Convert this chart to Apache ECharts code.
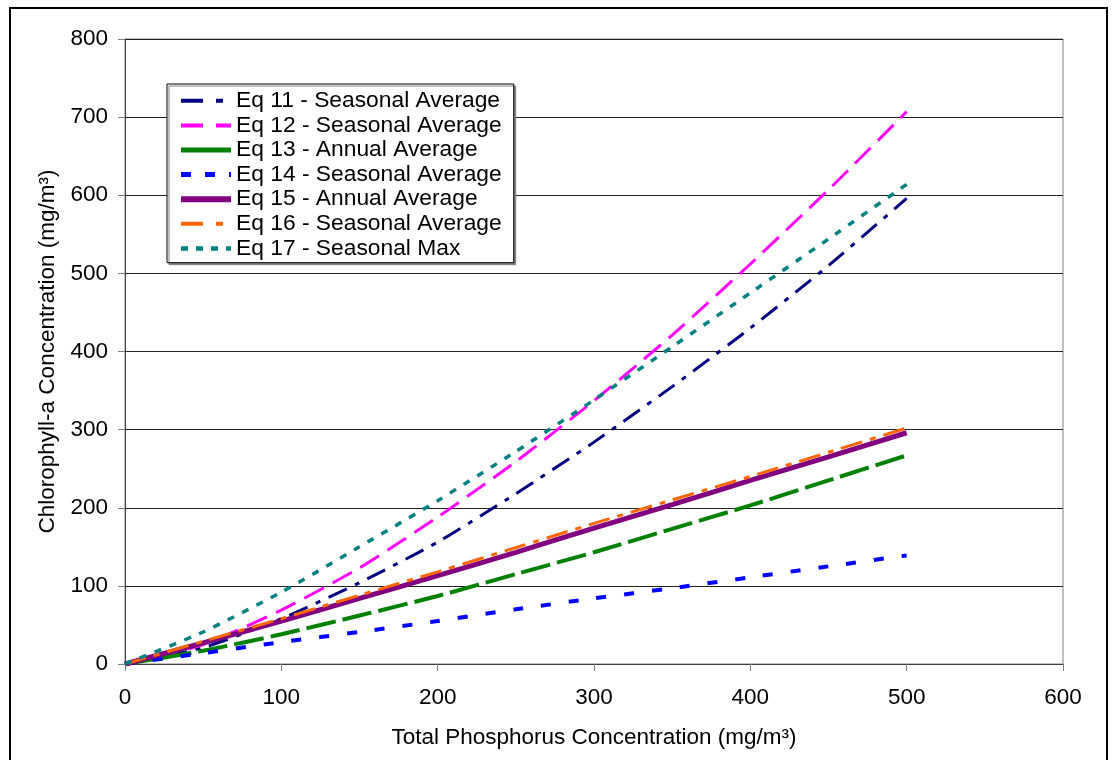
<!DOCTYPE html>
<html>
<head>
    <meta charset="UTF-8">
    <title>Chlorophyll-a vs Total Phosphorus</title>
<script src="https://cdn.jsdelivr.net/npm/echarts@6/dist/echarts.min.js"></script>
<style>
    html, body { margin: 0; padding: 0; background: #fff; }
</style>
</head>

<body>
    <div id="main" style="width: 1112px;height:760px;"></div>
    <script type="text/javascript">
        // total phosphorus (x) and chlorophyll-a (y)
        var tp   = [0, 50, 100, 150, 200, 250, 300, 350, 400, 450, 500];
        var eq11 = [0, 21, 58, 104, 156, 218, 284, 355, 430, 510, 596];
        var eq12 = [0, 25, 69, 123, 188, 259, 337, 421, 512, 607, 707];
        var eq13 = [0, 17, 38, 62, 87, 115, 143, 173, 203, 235, 267];
        var eq14 = [0, 14, 28, 41, 55, 70, 84, 97, 111, 125, 139];
        var eq15 = [0, 27, 55, 84, 113, 143, 174, 204, 235, 265, 296];
        var eq16 = [0, 29, 58, 88, 118, 149, 180, 210, 240, 271, 302];
        var eq17 = [0, 41, 92, 150, 209, 272, 338, 406, 475, 544, 614];

        var names = [
            'Eq 11 - Seasonal Average',
            'Eq 12 - Seasonal Average',
            'Eq 13 - Annual Average',
            'Eq 14 - Seasonal Average',
            'Eq 15 - Annual Average',
            'Eq 16 - Seasonal Average',
            'Eq 17 - Seasonal Max'
        ];
        var values = [eq11, eq12, eq13, eq14, eq15, eq16, eq17];
        var colors = ['#000080', '#ff00ff', '#008000', '#0000ff', '#800080', '#ff6600', '#008080'];
        var widths = [3, 3, 4, 4, 5, 3, 3.5];
        var dashes = [[20, 9, 5, 9], [22, 10], [30, 7], [10, 18], 'solid', [22, 8, 6, 8], [7, 9]];
        // dash patterns of the little legend swatches
        var legendDashes = [[22, 13, 7, 13], [22, 13], 'solid', [10, 14], 'solid', [22, 13, 7, 13], [7, 8]];

        var font = 'Arial, "Liberation Sans", sans-serif';
        var fontSize = 22.5;

        var myChart = echarts.init(document.getElementById('main'));

        var series = names.map(function (n, i) {
            return {
                name: n,
                type: 'line',
                symbol: 'none',
                smooth: 0.2,
                data: tp.map(function (x, j) { return [x, values[i][j]]; }),
                lineStyle: {
                    color: colors[i],
                    width: widths[i],
                    type: dashes[i],
                    cap: 'butt'
                },
                itemStyle: { color: colors[i] }
            };
        });

        var legendData = names.map(function (n, i) {
            return {
                name: n,
                lineStyle: { color: colors[i], width: widths[i] + 1, type: legendDashes[i], cap: 'butt' }
            };
        });

        var option = {
            backgroundColor: '#fff',
            animation: false,
            textStyle: { fontFamily: font, color: '#000' },
            graphic: [{
                type: 'rect',
                shape: { x: 10, y: 8, width: 1097, height: 770 },
                style: { fill: 'none', stroke: '#000', lineWidth: 2 },
                silent: true
            }],
            grid: {
                left: 125, top: 39, right: 49, bottom: 96,
                show: true, borderColor: '#808080', borderWidth: 1
            },
            legend: {
                orient: 'vertical',
                left: 167, top: 84,
                padding: [4.5, 12, 2, 11],
                itemWidth: 50, itemHeight: 14, itemGap: 0,
                itemStyle: { opacity: 0 },
                backgroundColor: '#fff',
                borderColor: '#000', borderWidth: 1,
                shadowColor: '#808080', shadowOffsetX: 2, shadowOffsetY: 2, shadowBlur: 0,
                textStyle: { fontFamily: font, fontSize: 22.8, lineHeight: 24.6, color: '#000' },
                data: legendData
            },
            xAxis: {
                type: 'value',
                min: 0, max: 600, interval: 100,
                name: 'Total Phosphorus Concentration (mg/m³)',
                nameLocation: 'middle', nameGap: 62,
                nameTextStyle: { fontFamily: font, fontSize: fontSize, color: '#000' },
                axisLine: { lineStyle: { color: '#404040', width: 1 } },
                axisTick: { show: true, length: 7, lineStyle: { color: '#808080' } },
                axisLabel: { margin: 22, fontFamily: font, fontSize: fontSize, color: '#000' },
                splitLine: { show: false }
            },
            yAxis: {
                type: 'value',
                min: 0, max: 800, interval: 100,
                name: 'Chlorophyll-a Concentration (mg/m³)',
                nameLocation: 'middle', nameGap: 64,
                nameTextStyle: { fontFamily: font, fontSize: fontSize, color: '#000' },
                axisLine: { show: true, lineStyle: { color: '#404040', width: 1 } },
                axisTick: { show: true, length: 7, lineStyle: { color: '#808080' } },
                axisLabel: { margin: 17, fontFamily: font, fontSize: fontSize, color: '#000' },
                splitLine: { show: true, lineStyle: { color: '#222', width: 1 } }
            },
            series: series
        };

        myChart.setOption(option);
    </script>
</body>
</html>
